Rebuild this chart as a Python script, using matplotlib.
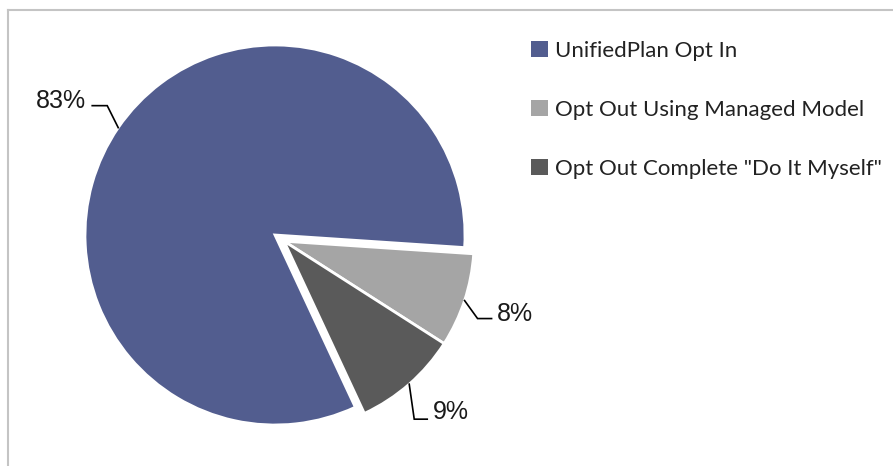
import numpy as np
import matplotlib
matplotlib.use("Agg")
import matplotlib.pyplot as plt
from matplotlib.lines import Line2D

categories = ["UnifiedPlan Opt In", "Opt Out Using Managed Model", 'Opt Out Complete "Do It Myself"']
values = [83, 8, 9]
pct_labels = ["83%", "8%", "9%"]
colors = ["#525d8f", "#a5a5a5", "#5a5a5a"]

W, H = 893, 466
fig = plt.figure(figsize=(W / 100, H / 100), dpi=100)
ax = fig.add_axes([0, 0, 1, 1])
PX = 190.0  # pixels per data unit (pie radius)
cx, cy = 275, 235

# frame lines (top and left)
fig.add_artist(Line2D([8 / W, 1], [1 - 10 / H, 1 - 10 / H], transform=fig.transFigure,
                      color="#c4c4c4", lw=1.5))
fig.add_artist(Line2D([8 / W, 8 / W], [0, 1 - 10 / H], transform=fig.transFigure,
                      color="#c4c4c4", lw=1.5))

wedges, _ = ax.pie(values, colors=colors, startangle=-65, counterclock=False,
                   radius=1.0, center=(0, 0),
                   wedgeprops=dict(edgecolor="white", linewidth=2.0))
ax.set_xlim(-cx / PX, (W - cx) / PX)
ax.set_ylim(-(H - cy) / PX, cy / PX)
ax.set_aspect("auto")
ax.axis("off")

# explode the two opt-out slices together as one group
t_lo = min(w.theta1 for w in wedges[1:])
t_hi = max(w.theta2 for w in wedges[1:])
mid = np.deg2rad((t_lo + t_hi) / 2)
shift = 11.0 / PX
off = (shift * np.cos(mid), shift * np.sin(mid))
for w in wedges[1:]:
    w.set_center(off)

# leader lines + labels
leader = {
    0: dict(bend=(-11, 22), run=-15, gap=-6, ha="right", dy=-2),
    1: dict(bend=(13, -18), run=14, gap=5, ha="left", dy=-2),
    2: dict(bend=(5, -35), run=13, gap=6, ha="left", dy=0),
}
for i, w in enumerate(wedges):
    a = np.deg2rad((w.theta1 + w.theta2) / 2)
    c = w.center
    ex, ey = c[0] + np.cos(a) * w.r, c[1] + np.sin(a) * w.r
    L = leader[i]
    bx, by = ex + L["bend"][0] / PX, ey + L["bend"][1] / PX
    hx = bx + L["run"] / PX
    ax.plot([ex, bx, hx], [ey, by, by], color="black", lw=1.2, solid_joinstyle="miter")
    ax.text(hx + L["gap"] / PX, by + L["dy"] / PX, pct_labels[i], ha=L["ha"], va="baseline",
            fontsize=18, family=["Liberation Sans"], color="#1a1a1a")

leg = ax.legend(wedges, categories, loc="upper left", bbox_to_anchor=(531 / W, 1 - 41 / H),
                bbox_transform=fig.transFigure, frameon=False,
                prop=dict(family="Lato", size=16), handlelength=0.75, handleheight=0.75,
                handletextpad=0.35, labelspacing=1.75, borderpad=0, borderaxespad=0)
for h in leg.legend_handles:
    h.set_edgecolor("none")
for t in leg.get_texts():
    t.set_color("#222222")

fig.savefig("out.png", dpi=100, facecolor="white")
